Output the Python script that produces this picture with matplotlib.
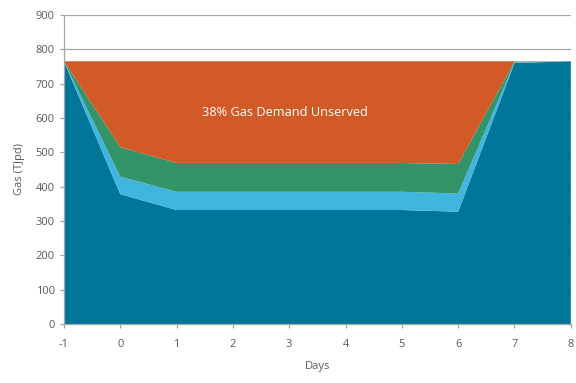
import matplotlib
matplotlib.use("Agg")
import matplotlib.pyplot as plt
import numpy as np

plt.rcParams['font.family'] = ['Open Sans', 'DejaVu Sans']
plt.rcParams['axes.unicode_minus'] = False

days = [-1, 0, 1, 2, 3, 4, 5, 6, 7, 8]
total_demand = [765, 765, 765, 765, 765, 765, 765, 765, 765, 765]
supplied = [765, 378, 332, 332, 332, 332, 332, 327, 760, 765]
light_layer = [0, 51, 53, 53, 53, 53, 53, 53, 2, 0]
green_layer = [0, 86, 84, 84, 84, 84, 84, 86, 2, 0]
unserved = [t - a - b - c for t, a, b, c in zip(total_demand, supplied, light_layer, green_layer)]

colors = ['#00769b', '#3fb5df', '#339469', '#d25a27']
label_text = '38% Gas Demand Unserved'

fig = plt.figure(figsize=(5.76, 3.83), dpi=100)
ax = fig.add_axes([0.111, 0.154, 0.880, 0.807])

ax.stackplot(days, supplied, light_layer, green_layer, unserved,
             colors=colors, linewidth=0, zorder=2)

ax.set_xlim(-1, 8)
ax.set_ylim(0, 900)
ax.set_xticks(days)
ax.set_yticks(range(0, 901, 100))
ax.yaxis.grid(True, color='#a6a6a6', linewidth=0.9, zorder=0)
ax.set_axisbelow(True)

for side in ['top', 'right']:
    ax.spines[side].set_visible(False)
for side in ['left', 'bottom']:
    ax.spines[side].set_color('#a6a6a6')
    ax.spines[side].set_linewidth(0.9)
    ax.spines[side].set_zorder(3)

ax.tick_params(axis='both', colors='#a6a6a6', labelcolor='#595959',
               labelsize=8, length=3, width=0.9)
ax.tick_params(axis='x', pad=8)

ax.set_xlabel('Days', fontsize=8, color='#595959', labelpad=8)
ax.set_ylabel('Gas (TJpd)', fontsize=8, color='#595959', labelpad=8)

ax.text(2.93, 617, label_text, color='white', fontsize=9.2,
        ha='center', va='center', zorder=4)

fig.savefig('out.png', dpi=100)
